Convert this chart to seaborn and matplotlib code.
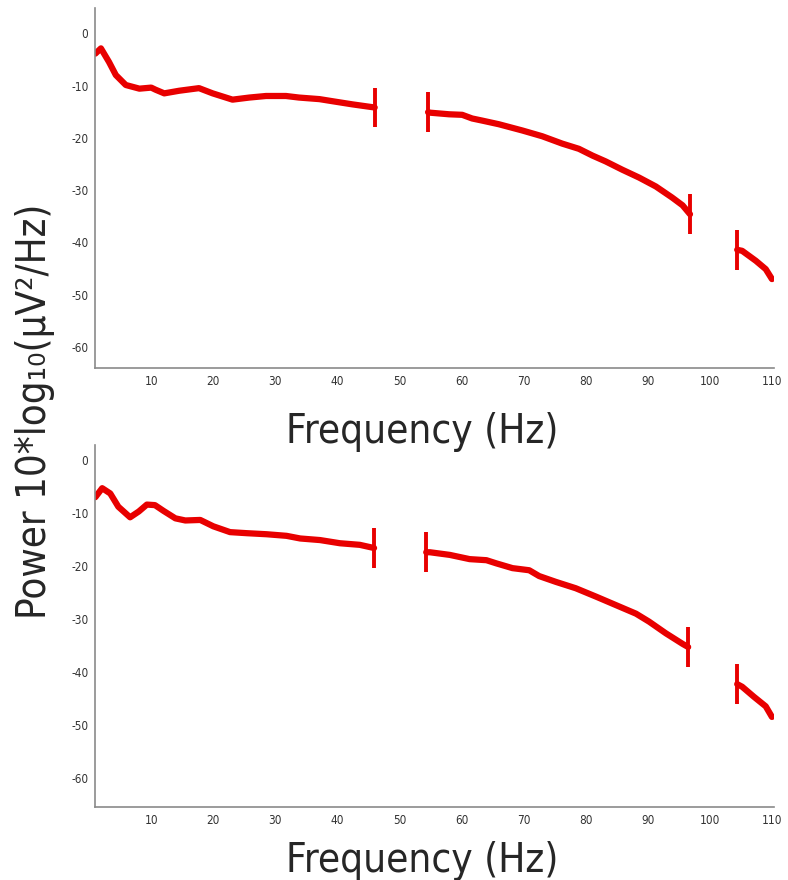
import numpy as np
import pandas as pd
import matplotlib
matplotlib.use("Agg")
import matplotlib.pyplot as plt
import seaborn as sns

# spectrum, split at the notched gaps
top_freq_1 = [1, 1.9, 3.2, 4.3, 5.9, 8.1, 10, 10.7, 12.1, 14.5, 17.7, 19.9, 23.1, 25.8,
              28.5, 31.7, 33.8, 37.1, 39.2, 42.4, 46]
top_pow_1 = [-3.9, -2.9, -5.5, -8.0, -9.9, -10.6, -10.4, -10.8, -11.5, -11.0, -10.5, -11.5,
             -12.7, -12.3, -12.0, -12.0, -12.3, -12.6, -13.0, -13.6, -14.2]
top_freq_2 = [54.6, 55.0, 58.0, 60.1, 61.7, 63.3, 66.0, 69.8, 73.0, 76.2, 78.9, 81.1, 83.2,
              85.9, 88.6, 91.3, 93.9, 95.6, 96.8]
top_pow_2 = [-15.1, -15.2, -15.5, -15.6, -16.3, -16.7, -17.4, -18.6, -19.7, -21.1, -22.1,
             -23.4, -24.5, -26.1, -27.6, -29.3, -31.4, -32.9, -34.6]
top_freq_3 = [104.4, 105.2, 107.4, 109.0, 110.0]
top_pow_3 = [-41.4, -41.6, -43.5, -45.1, -47.0]

bot_freq_1 = [1, 2.1, 3.4, 4.7, 6.6, 8.0, 9.3, 10.6, 12.0, 13.9, 15.5, 17.9, 20.0, 22.7,
              25.4, 28.6, 31.8, 34.0, 37.2, 40.4, 43.6, 45.9]
bot_pow_1 = [-7.0, -5.3, -6.3, -8.8, -10.8, -9.7, -8.4, -8.5, -9.6, -11.0, -11.4, -11.3,
             -12.5, -13.6, -13.8, -14.0, -14.3, -14.8, -15.1, -15.7, -16.0, -16.6]
bot_freq_2 = [54.3, 54.9, 58.1, 61.3, 64.0, 65.6, 68.2, 70.9, 72.5, 75.2, 78.4, 81.7, 84.9,
              88.1, 90.2, 92.9, 95.6, 96.5]
bot_pow_2 = [-17.4, -17.4, -17.9, -18.7, -18.9, -19.5, -20.4, -20.8, -21.9, -23.0, -24.2,
             -25.8, -27.4, -29.0, -30.5, -32.7, -34.7, -35.3]
bot_freq_3 = [104.4, 105.2, 107.1, 109.0, 110.0]
bot_pow_3 = [-42.3, -42.8, -44.7, -46.5, -48.5]

x_ticks = [10, 20, 30, 40, 50, 60, 70, 80, 90, 100, 110]
y_ticks = [0, -10, -20, -30, -40, -50, -60]

RED = "#e80000"
GREY = "#8a8a8a"

sns.set_style("white")
plt.rcParams["font.family"] = ["DejaVu Sans"]
plt.rcParams["font.stretch"] = "condensed"
plt.rcParams["axes.unicode_minus"] = False


def make_df(segs):
    rows = []
    for i, (f, p) in enumerate(segs):
        for a, b in zip(f, p):
            rows.append({"freq": a, "power": b, "seg": i})
    return pd.DataFrame(rows)


panels = [
    (make_df([(top_freq_1, top_pow_1), (top_freq_2, top_pow_2), (top_freq_3, top_pow_3)]),
     (-64, 4.8), [0.121, 0.5818, 0.861, 0.409], 17),
    (make_df([(bot_freq_1, bot_pow_1), (bot_freq_2, bot_pow_2), (bot_freq_3, bot_pow_3)]),
     (-65.5, 2.8), [0.121, 0.083, 0.861, 0.411], 10),
]

fig = plt.figure(figsize=(7.88, 8.8), dpi=100)

for df, ylim, pos, lpad in panels:
    ax = fig.add_axes(pos)
    ax.patch.set_visible(False)
    sns.lineplot(data=df, x="freq", y="power", units="seg", estimator=None, sort=False,
                 color=RED, lw=4.5, ax=ax, legend=False, solid_capstyle="round",
                 solid_joinstyle="round")
    # gap markers: vertical bars at the segment edges
    for s, g in df.groupby("seg"):
        ends = [g.iloc[0], g.iloc[-1]]
        if s == 0:
            ends = [g.iloc[-1]]
        elif s == df["seg"].max():
            ends = [g.iloc[0]]
        for r in ends:
            ax.vlines(r["freq"], r["power"] - 3.8, r["power"] + 3.8, color=RED, lw=2.8)
    ax.set_xlim(1, 110.3)
    ax.set_ylim(*ylim)
    ax.set_xticks(x_ticks)
    ax.set_yticks(y_ticks)
    sns.despine(ax=ax)
    for sp in ["left", "bottom"]:
        ax.spines[sp].set_color(GREY)
        ax.spines[sp].set_linewidth(1.2)
    ax.tick_params(direction="in", length=10, width=1, color=GREY, labelsize=8.5,
                   labelcolor="#333333", pad=5)
    ax.set_xlabel("Frequency (Hz)", fontsize=29, labelpad=lpad)
    ax.xaxis.label.set_x(0.482)
    ax.set_ylabel("")

fig.text(0.044, 1 - 411 / 880, "Power 10*log\u2081\u2080(\u03bcV\u00b2/Hz)", rotation=90,
         ha="center", va="center", fontsize=28.8)

fig.savefig("out.png", dpi=100)
